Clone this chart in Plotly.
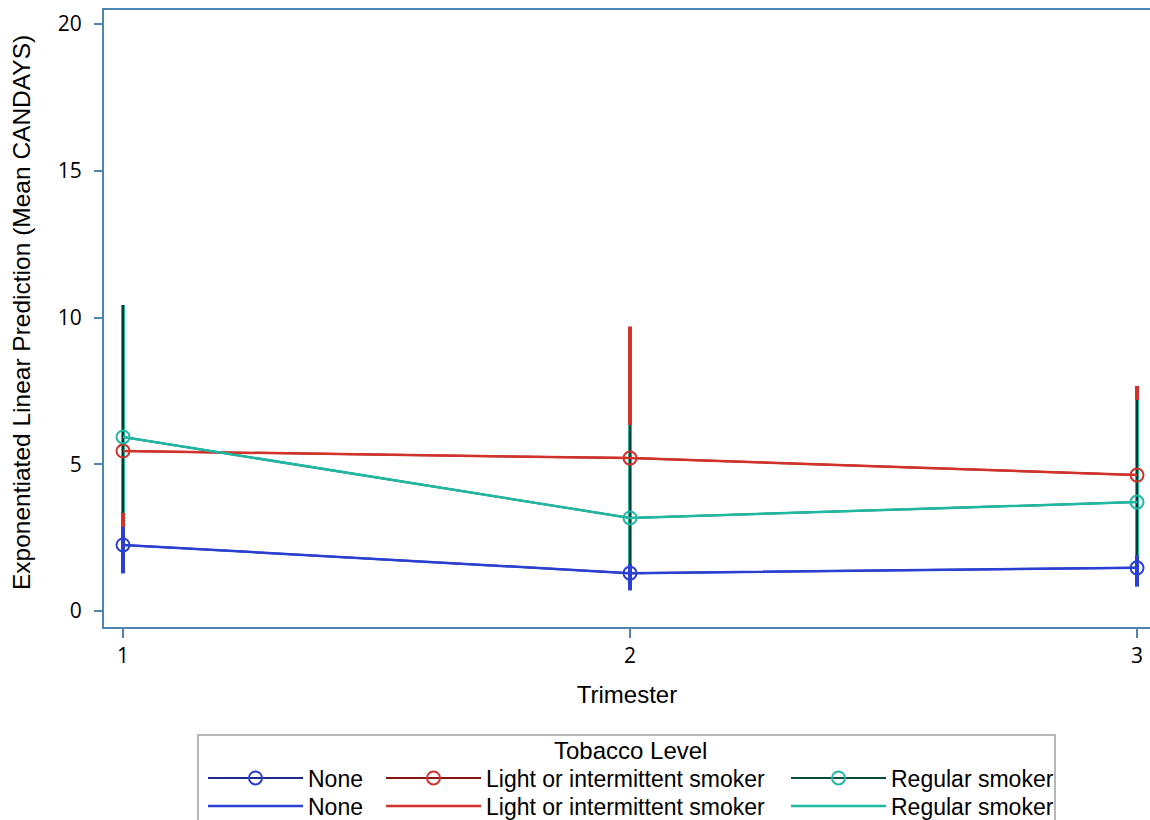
import plotly.graph_objects as go

# Trimester categories and group labels
trimesters = [1, 2, 3]
groups = ["None", "Light or intermittent smoker", "Regular smoker"]

# Exponentiated linear prediction (mean CANDAYS) with confidence limits
none_mean = [2.25, 1.29, 1.47]
none_lo = [1.28, 0.70, 0.83]
none_hi = [3.90, 2.40, 2.70]

light_mean = [5.45, 5.21, 4.63]
light_lo = [2.86, 2.30, 2.80]
light_hi = [10.30, 9.69, 7.67]

regular_mean = [5.93, 3.17, 3.71]
regular_lo = [3.35, 1.60, 1.90]
regular_hi = [10.43, 6.34, 7.19]

# y axis ticks
y_ticks = [0, 5, 10, 15, 20]

bright = ["#2b3fd3", "#d2322a", "#1fb8a2"]
dark = ["#1c2a8c", "#8a1414", "#0a4a3c"]
axis_col = "#4f86b0"

series = [
    (none_mean, none_lo, none_hi),
    (light_mean, light_lo, light_hi),
    (regular_mean, regular_lo, regular_hi),
]


def ci_bars(m, lo, hi, color, thickness):
    return dict(type="data", symmetric=False,
                array=[h - v for h, v in zip(hi, m)],
                arrayminus=[v - l for v, l in zip(m, lo)],
                color=color, thickness=thickness, width=0)


fig = go.Figure()

# Confidence-interval bars (drawn first so lines and markers sit on top)
for i, (m, lo, hi) in enumerate(series):
    fig.add_trace(go.Scatter(
        x=trimesters, y=m, mode="markers",
        marker=dict(size=1, color="rgba(0,0,0,0)"),
        error_y=ci_bars(m, lo, hi, bright[i], 4),
        showlegend=False, hoverinfo="skip"))
# dark core on the regular-smoker bars
m, lo, hi = series[2]
fig.add_trace(go.Scatter(
    x=trimesters, y=m, mode="markers",
    marker=dict(size=1, color="rgba(0,0,0,0)"),
    error_y=ci_bars(m, lo, hi, "#052a24", 1.8),
    showlegend=False, hoverinfo="skip"))

# Marker series with dark lines (first legend row)
for i, (m, lo, hi) in enumerate(series):
    fig.add_trace(go.Scatter(
        x=trimesters, y=m, mode="lines+markers", name=groups[i],
        line=dict(color=dark[i], width=2),
        marker=dict(symbol="circle-open", size=13, color=bright[i],
                    line=dict(width=2, color=bright[i])),
        legend="legend" + ("" if i == 0 else str(i + 1))))

# Plain colored connecting lines (second legend row)
for i, (m, lo, hi) in enumerate(series):
    fig.add_trace(go.Scatter(
        x=trimesters, y=m, mode="lines", name=groups[i],
        line=dict(color=bright[i], width=2.5),
        legend="legend" + str(i + 4)))

W, H = 1150, 820
L, T, B, R = 104, 10, 193, 0
pw, ph = W - L - R, H - T - B


def px_x(p):
    return (p - L) / pw


def px_y(p):
    return (H - B - p) / ph


leg_font = dict(family="Liberation Sans, Arial, sans-serif", size=23, color="#000")


def legend_at(px, py):
    # one legend entry placed in container coordinates (pixels from top-left)
    return dict(orientation="v", xref="container", yref="container",
                x=px / W, y=1 - py / H, xanchor="left", yanchor="middle",
                bgcolor="rgba(0,0,0,0)", borderwidth=0, font=leg_font,
                itemwidth=95, tracegroupgap=0)


col_x = [203, 381, 786]
row_y = [778, 806]
legends = {}
for r, ry in enumerate(row_y):
    for c, cx in enumerate(col_x):
        k = r * 3 + c
        legends["legend" + ("" if k == 0 else str(k + 1))] = legend_at(cx, ry)

fig.update_layout(
    width=W, height=H,
    margin=dict(l=L, r=R, t=T, b=B, pad=0, autoexpand=False),
    paper_bgcolor="white", plot_bgcolor="white",
    **legends,
    xaxis=dict(
        range=[0.9625, 3.0256], tickvals=trimesters, ticktext=["1", "2", "3"],
        showline=True, linecolor=axis_col, linewidth=2, mirror=True,
        ticks="outside", ticklen=9, tickcolor=axis_col, tickwidth=2,
        showgrid=False, zeroline=False,
        tickfont=dict(family="Open Sans, sans-serif", size=21, color="#000"),
        title=dict(text="Trimester", standoff=18,
                   font=dict(family="Liberation Sans, Arial, sans-serif", size=24, color="#000")),
    ),
    yaxis=dict(
        range=[-0.545, 20.477], tickvals=y_ticks,
        showline=True, linecolor=axis_col, linewidth=2,
        ticks="outside", ticklen=8, tickcolor=axis_col, tickwidth=2,
        ticklabelstandoff=8,
        showgrid=False, zeroline=False,
        tickfont=dict(family="Open Sans, sans-serif", size=21, color="#000"),
    ),
    shapes=[dict(type="rect", xref="paper", yref="paper",
                 x0=px_x(198), x1=px_x(1055), y0=px_y(735), y1=px_y(840),
                 line=dict(color="#a0a0a0", width=1.5), fillcolor="rgba(0,0,0,0)")],
    annotations=[
        dict(text="Tobacco Level", xref="paper", yref="paper",
             x=px_x(630), y=px_y(750), showarrow=False,
             xanchor="center", yanchor="middle",
             font=dict(leg_font, size=24)),
        dict(text="Exponentiated Linear Prediction (Mean CANDAYS)",
             xref="paper", yref="paper", x=px_x(21), y=px_y(313),
             textangle=-90, showarrow=False, xanchor="center", yanchor="middle",
             font=dict(family="Liberation Sans, Arial, sans-serif", size=24.5, color="#000")),
    ],
)

fig.write_html("out.html", config={"displayModeBar": False})
